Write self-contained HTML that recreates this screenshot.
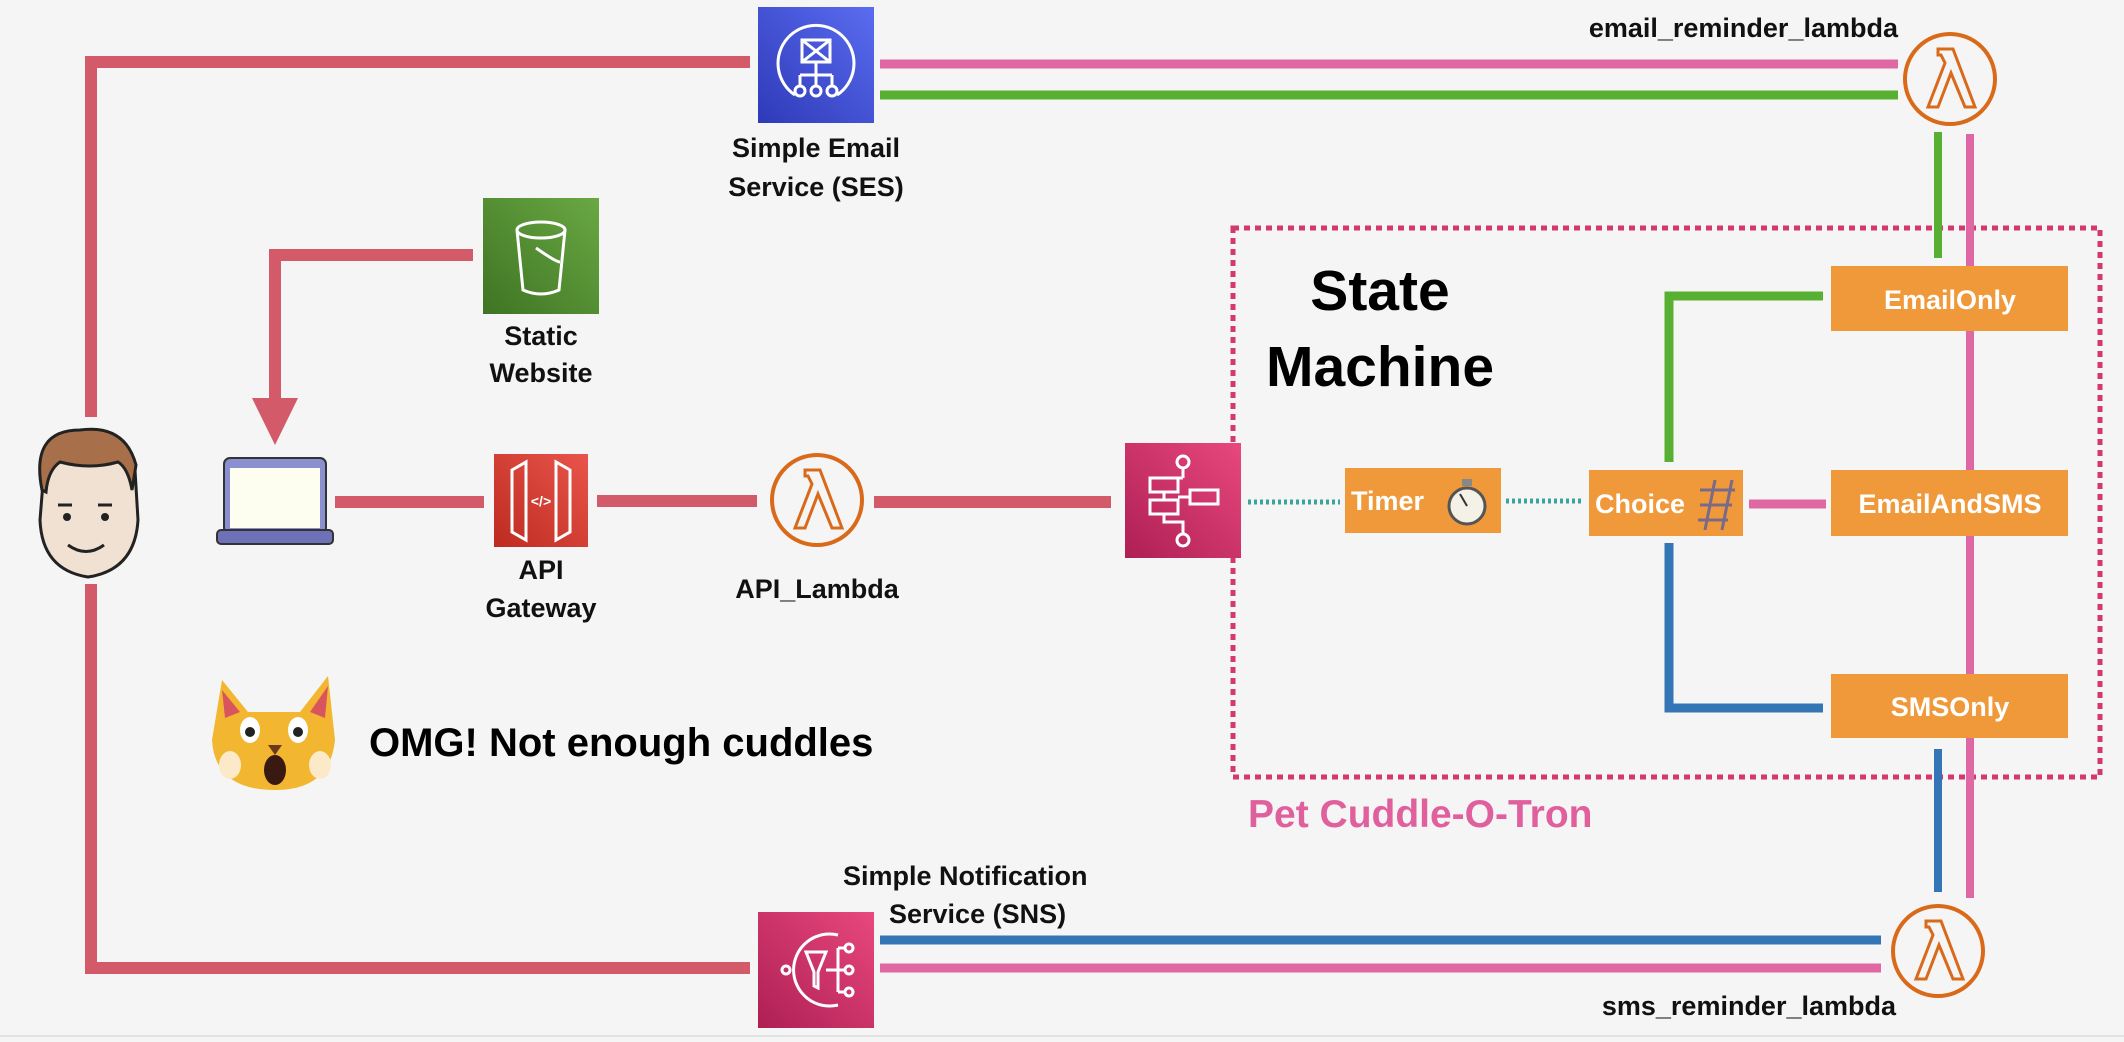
<!DOCTYPE html>
<html><head><meta charset="utf-8"><style>
html,body{margin:0;padding:0;background:#f5f5f5;}
svg{display:block}
text{font-family:"Liberation Sans",sans-serif;font-weight:bold;}
</style></head><body>
<svg width="2124" height="1042" viewBox="0 0 2124 1042" xmlns="http://www.w3.org/2000/svg">
<defs>
<linearGradient id="gb" x1="0" y1="1" x2="1" y2="0"><stop offset="0" stop-color="#2e3ab8"/><stop offset="1" stop-color="#5a6cf0"/></linearGradient>
<linearGradient id="gg" x1="0" y1="1" x2="1" y2="0"><stop offset="0" stop-color="#3e7423"/><stop offset="1" stop-color="#6aa843"/></linearGradient>
<linearGradient id="gr" x1="0" y1="1" x2="1" y2="0"><stop offset="0" stop-color="#bd2a1f"/><stop offset="1" stop-color="#e9554a"/></linearGradient>
<linearGradient id="gp" x1="0" y1="1" x2="1" y2="0"><stop offset="0" stop-color="#ae1f54"/><stop offset="1" stop-color="#e8487d"/></linearGradient>
</defs>
<rect width="2124" height="1042" fill="#f5f5f5"/>
<line x1="0" y1="1036" x2="2124" y2="1036" stroke="#e2e2e2" stroke-width="2"/>

<g stroke="#d25a69" stroke-width="12" fill="none">
<polyline points="91,417 91,62 750,62"/>
<polyline points="91,584 91,968 750,968"/>
<polyline points="473,255 275,255 275,400"/>
<line x1="335" y1="502" x2="484" y2="502"/>
<line x1="597" y1="501" x2="757" y2="501"/>
<line x1="874" y1="502" x2="1111" y2="502"/>
</g>
<polygon points="252,398 298,398 275,445" fill="#d25a69"/>

<line x1="880" y1="64" x2="1898" y2="64" stroke="#df68a4" stroke-width="9"/>
<line x1="880" y1="95" x2="1898" y2="95" stroke="#58b033" stroke-width="9"/>
<line x1="880" y1="940" x2="1881" y2="940" stroke="#3476b5" stroke-width="9"/>
<line x1="880" y1="968" x2="1881" y2="968" stroke="#df68a4" stroke-width="9"/>

<rect x="1233" y="228" width="867" height="549" fill="none" stroke="#d3386e" stroke-width="5" stroke-dasharray="6,5"/>

<line x1="1970" y1="134" x2="1970" y2="898" stroke="#df68a4" stroke-width="8"/>
<line x1="1938" y1="132" x2="1938" y2="258" stroke="#58b033" stroke-width="8"/>
<line x1="1938" y1="749" x2="1938" y2="892" stroke="#3476b5" stroke-width="8"/>
<polyline points="1669,462 1669,296 1823,296" fill="none" stroke="#58b033" stroke-width="9"/>
<polyline points="1669,543 1669,708 1823,708" fill="none" stroke="#3476b5" stroke-width="9"/>
<line x1="1749" y1="504" x2="1826" y2="504" stroke="#df68a4" stroke-width="9"/>
<g stroke="#3aa59a" stroke-width="5" stroke-dasharray="3,3">
<line x1="1248" y1="502" x2="1340" y2="502"/>
<line x1="1506" y1="501" x2="1584" y2="501"/>
</g>

<rect x="758" y="7" width="116" height="116" fill="url(#gb)"/>
<g stroke="#fff" stroke-width="3" fill="none">
<path d="M795,95 A38,38 0 1 1 837,95"/>
<rect x="802" y="40" width="28" height="22"/>
<path d="M802,40 L830,62 M830,40 L802,62"/>
<path d="M816,62 V75 M800,75 H832 M800,75 V86 M816,75 V86 M832,75 V86"/>
<circle cx="800" cy="91" r="5"/><circle cx="816" cy="91" r="5"/><circle cx="832" cy="91" r="5"/>
</g>
<text x="816" y="157" font-size="27" text-anchor="middle" fill="#111">Simple Email</text>
<text x="816" y="196" font-size="27" text-anchor="middle" fill="#111">Service (SES)</text>

<rect x="483" y="198" width="116" height="116" fill="url(#gg)"/>
<g stroke="#fff" stroke-width="3" fill="none">
<ellipse cx="541" cy="230" rx="24" ry="8"/>
<path d="M517,230 L523,290 Q541,298 559,290 L565,230"/>
<path d="M536,248 Q556,262 560,262"/>
</g>
<text x="541" y="345" font-size="27" text-anchor="middle" fill="#111">Static</text>
<text x="541" y="382" font-size="27" text-anchor="middle" fill="#111">Website</text>

<g>
<path d="M44,470 Q40,430 80,432 Q125,428 135,470 L138,520 Q135,570 88,577 Q42,570 40,520 Z" fill="#f1e1d3" stroke="#222" stroke-width="3"/>
<path d="M42,490 Q30,430 80,430 Q125,424 136,465 L132,490 Q128,468 118,462 Q90,470 60,462 Q48,470 46,492 Z" fill="#a8704a" stroke="#222" stroke-width="3"/>
<path d="M58,505 H72 M98,505 H112" stroke="#222" stroke-width="3"/>
<circle cx="67" cy="517" r="4" fill="#222"/><circle cx="105" cy="517" r="4" fill="#222"/>
<path d="M68,545 Q86,558 104,545" stroke="#222" stroke-width="3" fill="none"/>
</g>

<rect x="224" y="458" width="102" height="76" rx="6" fill="#8a8fcf" stroke="#333" stroke-width="2"/>
<rect x="230" y="468" width="90" height="60" fill="#fdfdf0"/>
<rect x="217" y="530" width="116" height="14" rx="4" fill="#6d72b8" stroke="#333" stroke-width="2"/>

<rect x="494" y="454" width="94" height="93" fill="url(#gr)"/>
<g stroke="#fff" stroke-width="3" fill="none">
<path d="M512,470 L526,462 V540 L512,532 Z M570,470 L556,462 V540 L570,532 Z"/>
<text x="541" y="506" font-size="14" fill="#fff" stroke="none" text-anchor="middle">&lt;/&gt;</text>
</g>
<text x="541" y="579" font-size="27" text-anchor="middle" fill="#111">API</text>
<text x="541" y="617" font-size="27" text-anchor="middle" fill="#111">Gateway</text>

<g fill="none" stroke="#d86a1a" stroke-width="4">
<circle cx="817" cy="500" r="45"/>
<circle cx="1950" cy="79" r="45"/>
<circle cx="1938" cy="951" r="45"/>
</g>
<g fill="none" stroke="#d86a1a" stroke-width="3">
<path d="M805,470 H820 L842,528 H832 L818,494 L805,528 H795 L812,484 L808,476 H805 Z"/>
<path d="M1938,49 H1953 L1975,107 H1965 L1951,73 L1938,107 H1928 L1945,63 L1941,55 H1938 Z"/>
<path d="M1926,921 H1941 L1963,979 H1953 L1939,945 L1926,979 H1916 L1933,935 L1929,927 H1926 Z"/>
</g>
<text x="817" y="598" font-size="27" text-anchor="middle" fill="#111">API_Lambda</text>
<text x="1898" y="37" font-size="27" text-anchor="end" fill="#111">email_reminder_lambda</text>
<text x="1896" y="1015" font-size="27" text-anchor="end" fill="#111">sms_reminder_lambda</text>

<rect x="1125" y="443" width="116" height="115" fill="url(#gp)"/>
<g stroke="#fff" stroke-width="3" fill="none">
<circle cx="1183" cy="462" r="6"/><path d="M1183,468 V478 M1150,478 H1183"/>
<rect x="1150" y="478" width="28" height="14"/><rect x="1150" y="500" width="28" height="14"/><rect x="1190" y="490" width="28" height="14"/>
<path d="M1164,492 V500 M1178,497 H1190 M1164,514 V522 H1183 V534"/><circle cx="1183" cy="540" r="6"/>
</g>

<text x="1380" y="310" font-size="57" text-anchor="middle" fill="#000">State</text>
<text x="1380" y="386" font-size="57" text-anchor="middle" fill="#000">Machine</text>

<g fill="#f0993a">
<rect x="1831" y="266" width="237" height="65"/>
<rect x="1345" y="468" width="156" height="65"/>
<rect x="1589" y="470" width="154" height="66"/>
<rect x="1831" y="470" width="237" height="66"/>
<rect x="1831" y="674" width="237" height="64"/>
</g>
<g fill="#fff" font-size="27">
<text x="1950" y="309" text-anchor="middle">EmailOnly</text>
<text x="1351" y="510">Timer</text>
<text x="1595" y="513">Choice</text>
<text x="1950" y="513" text-anchor="middle">EmailAndSMS</text>
<text x="1950" y="716" text-anchor="middle">SMSOnly</text>
</g>
<circle cx="1467" cy="506" r="18" fill="#f4f1e6" stroke="#555" stroke-width="3"/>
<rect x="1462" y="479" width="10" height="7" fill="#888"/>
<line x1="1467" y1="506" x2="1460" y2="494" stroke="#333" stroke-width="2"/>
<g stroke="#7a6a8a" stroke-width="3"><line x1="1705" y1="530" x2="1715" y2="480"/><line x1="1722" y1="530" x2="1732" y2="480"/><line x1="1700" y1="490" x2="1735" y2="490"/><line x1="1700" y1="505" x2="1732" y2="505"/><line x1="1698" y1="520" x2="1728" y2="520"/></g>

<text x="1248" y="827" font-size="39" fill="#e0609e">Pet Cuddle-O-Tron</text>

<rect x="758" y="912" width="116" height="116" fill="url(#gp)"/>
<g stroke="#fff" stroke-width="3" fill="none">
<path d="M838,935 A36,36 0 1 0 838,1005"/>
<path d="M806,952 H826 L818,972 V988 L814,986 V972 Z"/>
<path d="M826,970 H845 M838,948 V992 M838,948 H845 M838,992 H845"/>
<circle cx="849" cy="948" r="4"/><circle cx="849" cy="970" r="4"/><circle cx="849" cy="992" r="4"/><circle cx="786" cy="970" r="4"/>
</g>
<text x="843" y="885" font-size="27" fill="#111">Simple Notification</text>
<text x="889" y="923" font-size="27" fill="#111">Service (SNS)</text>

<g>
<path d="M222,680 L248,712 L300,712 L328,676 L335,740 Q330,790 275,790 Q215,790 212,740 Z" fill="#f2b630"/>
<path d="M222,690 L240,712 L225,718 Z M328,686 L310,712 L325,718 Z" fill="#d9555e"/>
<ellipse cx="250" cy="730" rx="10" ry="13" fill="#fff"/><ellipse cx="298" cy="730" rx="10" ry="13" fill="#fff"/>
<circle cx="250" cy="732" r="5" fill="#222"/><circle cx="298" cy="732" r="5" fill="#222"/>
<path d="M268,745 H282 L275,755 Z" fill="#6b3a1e"/>
<ellipse cx="275" cy="770" rx="11" ry="15" fill="#3a1a10"/>
<ellipse cx="230" cy="765" rx="11" ry="14" fill="#fbe9c7"/><ellipse cx="320" cy="765" rx="11" ry="14" fill="#fbe9c7"/>
</g>
<text x="369" y="756" font-size="40" fill="#000">OMG! Not enough cuddles</text>
</svg>
</body></html>
